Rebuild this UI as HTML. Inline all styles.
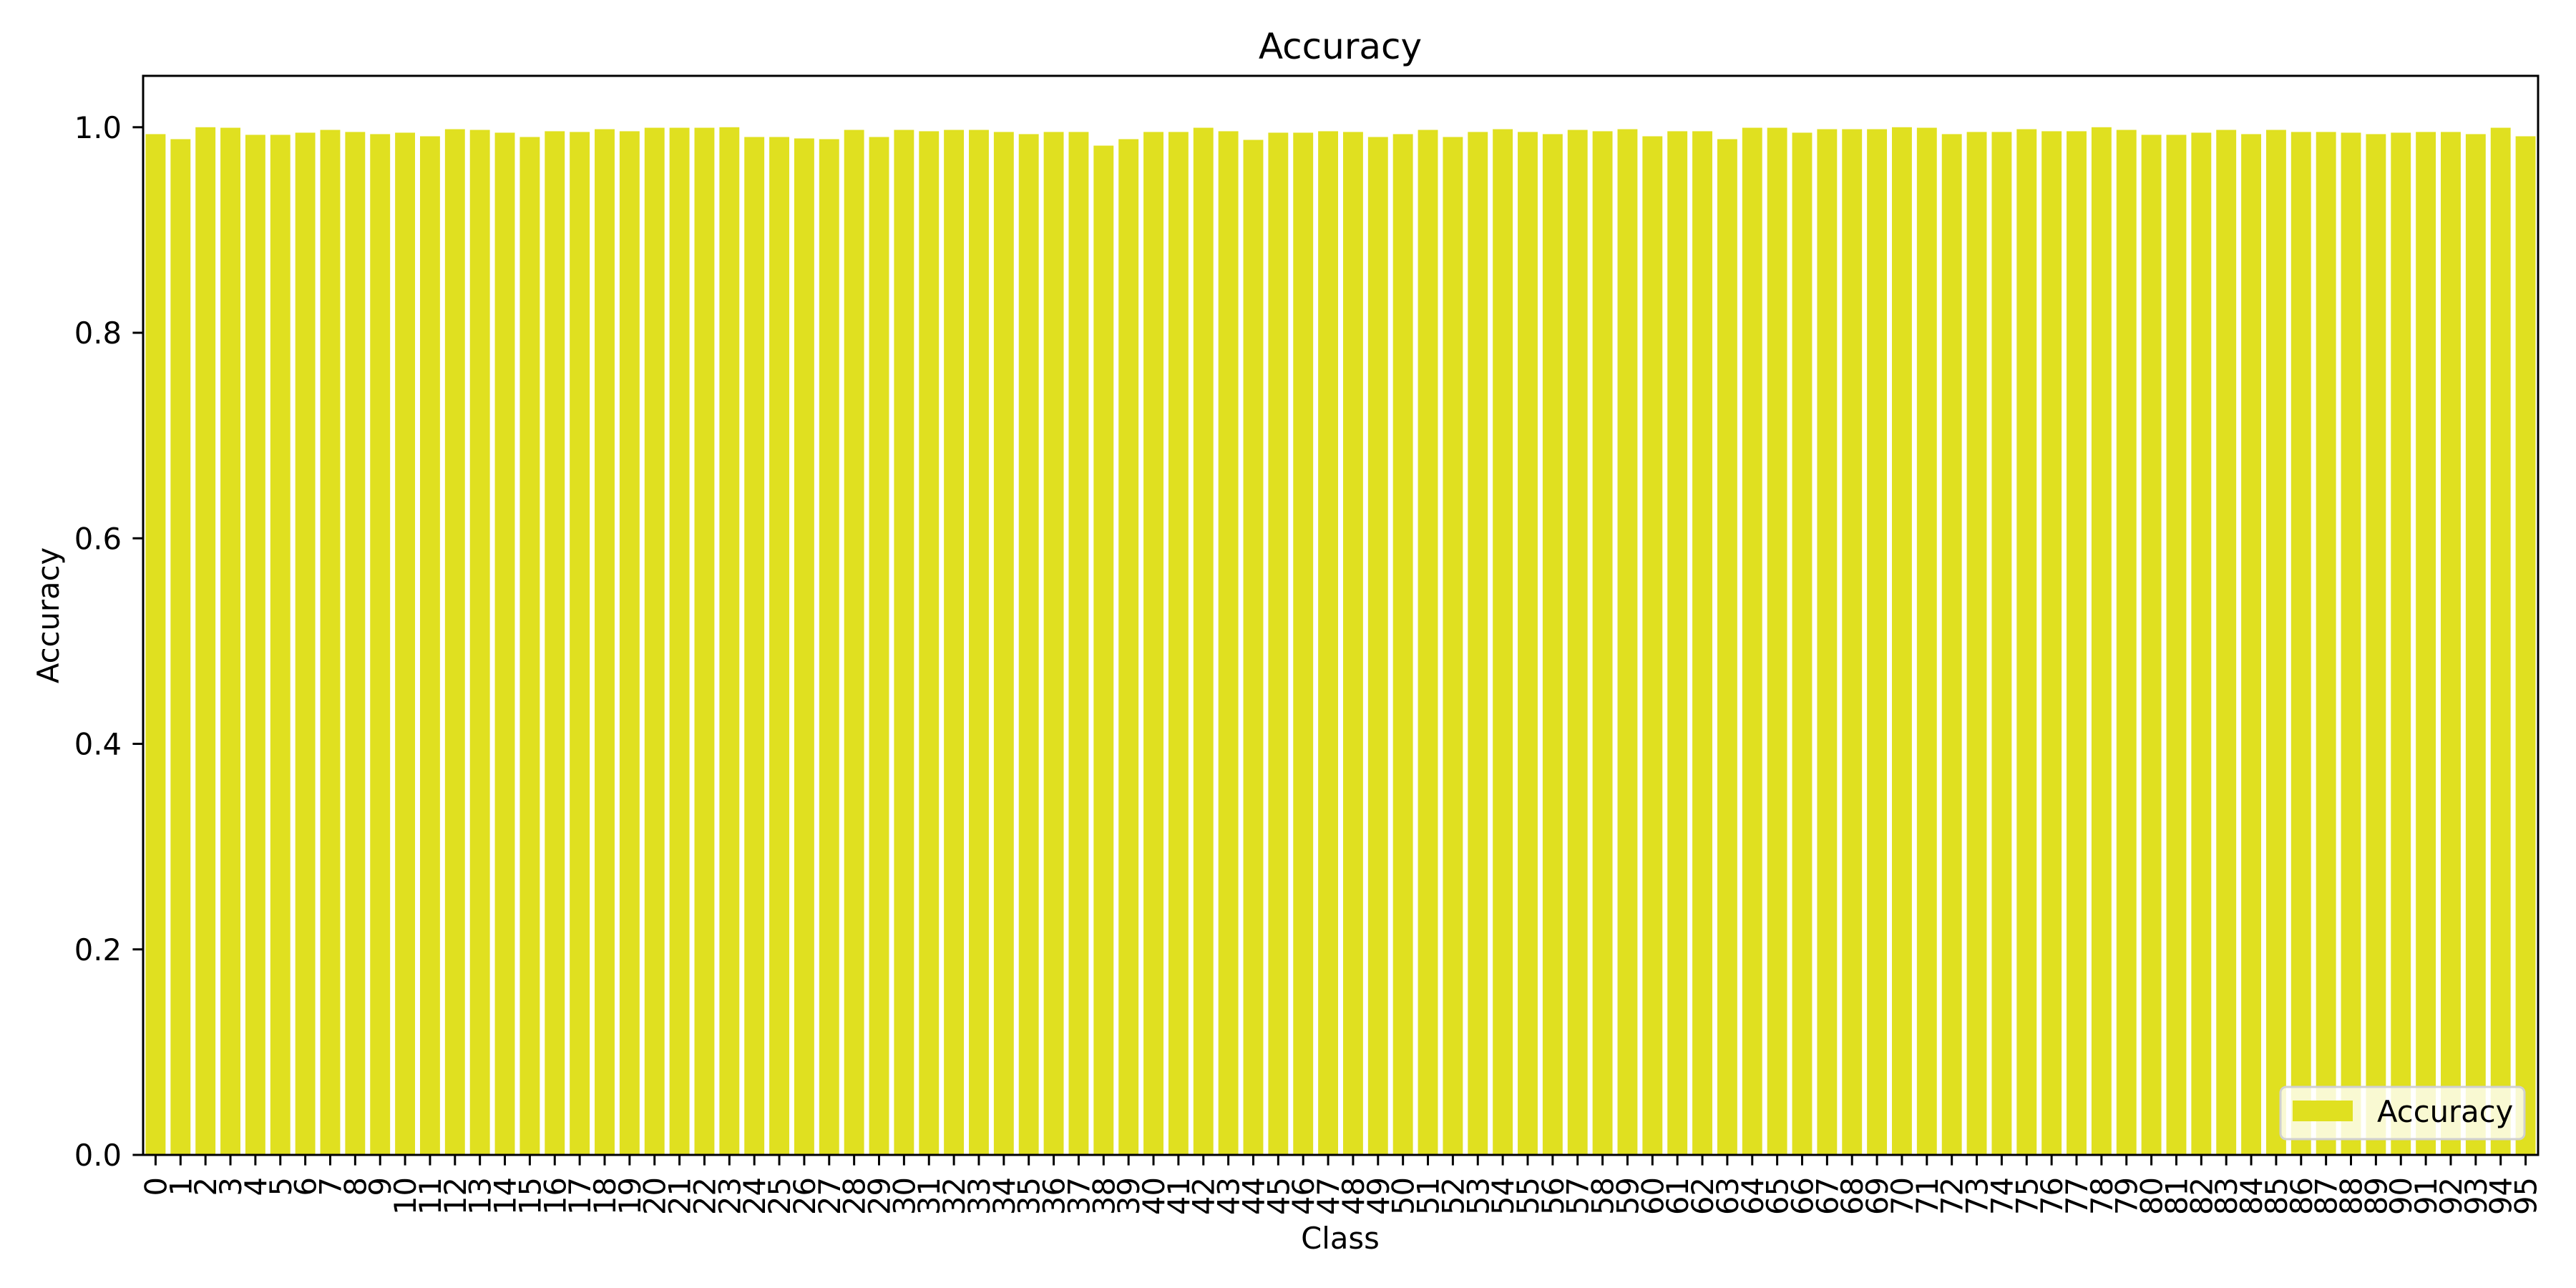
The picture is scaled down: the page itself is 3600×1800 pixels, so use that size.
<!DOCTYPE html>
<html><head><meta charset="utf-8"><style>
html,body{margin:0;padding:0;background:#fff;}
svg{display:block;font-family:"DejaVu Sans","Liberation Sans",sans-serif;}
</style></head><body>
<svg id="chart" width="3600" height="1800" viewBox="0 0 3600 1800">
<rect x="0" y="0" width="3600" height="1800" fill="#fff"/>
<text x="1873" y="82" font-size="50" text-anchor="middle">Accuracy</text>
<text x="1873" y="1745" font-size="41.7" text-anchor="middle">Class</text>
<text transform="translate(82,860) rotate(-90)" font-size="41.7" text-anchor="middle">Accuracy</text>
<g id="bars"></g>
<g id="yticks"></g>
<g id="xticks"></g>
<rect x="200" y="106" width="3347" height="1508" fill="none" stroke="#000" stroke-width="3"/>
<g>
<rect x="3187" y="1519" width="341" height="73" rx="8" fill="#fff" fill-opacity="0.8" stroke="#d0d0d0" stroke-width="3"/>
<rect x="3204" y="1538" width="84" height="29" fill="#e0e020"/>
<text x="3322" y="1568" font-size="41.7">Accuracy</text>
</g>
</svg>
<script>
const categories = Array.from({length:96},(_,i)=>String(i));
const accuracy = [
0.9933,0.9884,1.0,0.9995,0.9926,0.9926,0.9947,0.9974,0.9954,0.9933,
0.9947,0.9912,0.9981,0.9974,0.9947,0.9905,0.9961,0.9954,0.9981,0.9961,
0.9995,0.9995,0.9995,1.0,0.9905,0.9905,0.9891,0.9884,0.9974,0.9905,
0.9974,0.9961,0.9974,0.9974,0.9954,0.9933,0.9954,0.9954,0.9821,0.9884,
0.9954,0.9954,0.9995,0.9961,0.9877,0.9947,0.9947,0.9961,0.9954,0.9905,
0.9933,0.9974,0.9905,0.9954,0.9981,0.9954,0.9933,0.9974,0.9961,0.9981,
0.9912,0.9961,0.9961,0.9884,0.9995,0.9995,0.9947,0.9981,0.9981,0.9981,
1.0,0.9995,0.9933,0.9954,0.9954,0.9981,0.9961,0.9961,1.0,0.9974,
0.9926,0.9926,0.9947,0.9974,0.9933,0.9974,0.9954,0.9954,0.9947,0.9933,
0.9947,0.9954,0.9954,0.9933,0.9995,0.9912];
const yTicks = [0,0.2,0.4,0.6,0.8,1.0];
const yTickLabels = ["0.0","0.2","0.4","0.6","0.8","1.0"];
const NS="http://www.w3.org/2000/svg";
const L=200,R=3547,T=106,B=1614,YMAX=1.05;
const step=(R-L)/categories.length;
const xs=i=>L+step*(i+0.5);
const ys=v=>B-(v/YMAX)*(B-T);
const bars=document.getElementById('bars');
accuracy.forEach((v,i)=>{
 const r=document.createElementNS(NS,'rect');
 r.setAttribute('x',xs(i)-step*0.4);r.setAttribute('width',step*0.8);
 r.setAttribute('y',ys(v));r.setAttribute('height',B-ys(v));
 r.setAttribute('fill','#e0e020');
 
 
 bars.appendChild(r);
});
const yg=document.getElementById('yticks');
yTicks.forEach((t,i)=>{
 const y=ys(t);
 const l=document.createElementNS(NS,'line');
 l.setAttribute('x1',L-14.6);l.setAttribute('x2',L);l.setAttribute('y1',y);l.setAttribute('y2',y);
 l.setAttribute('stroke','#000');l.setAttribute('stroke-width','3');
 
 
 yg.appendChild(l);
 const tx=document.createElementNS(NS,'text');
 tx.setAttribute('x',L-30);tx.setAttribute('y',y+15);tx.setAttribute('font-size','41.7');tx.setAttribute('text-anchor','end');
 tx.textContent=yTickLabels[i];
 
 
 yg.appendChild(tx);
});
const xg=document.getElementById('xticks');
categories.forEach((c,i)=>{
 const x=xs(i);
 const l=document.createElementNS(NS,'line');
 l.setAttribute('x1',x);l.setAttribute('x2',x);l.setAttribute('y1',B);l.setAttribute('y2',B+14.6);
 l.setAttribute('stroke','#000');l.setAttribute('stroke-width','3');
 
 
 xg.appendChild(l);
 const tx=document.createElementNS(NS,'text');
 tx.setAttribute('transform','translate('+(x+15)+','+(B+31)+') rotate(-90)');
 tx.setAttribute('font-size','41.7');tx.setAttribute('text-anchor','end');
 tx.textContent=c;
 
 
 xg.appendChild(tx);
});
</script>
</body></html>
